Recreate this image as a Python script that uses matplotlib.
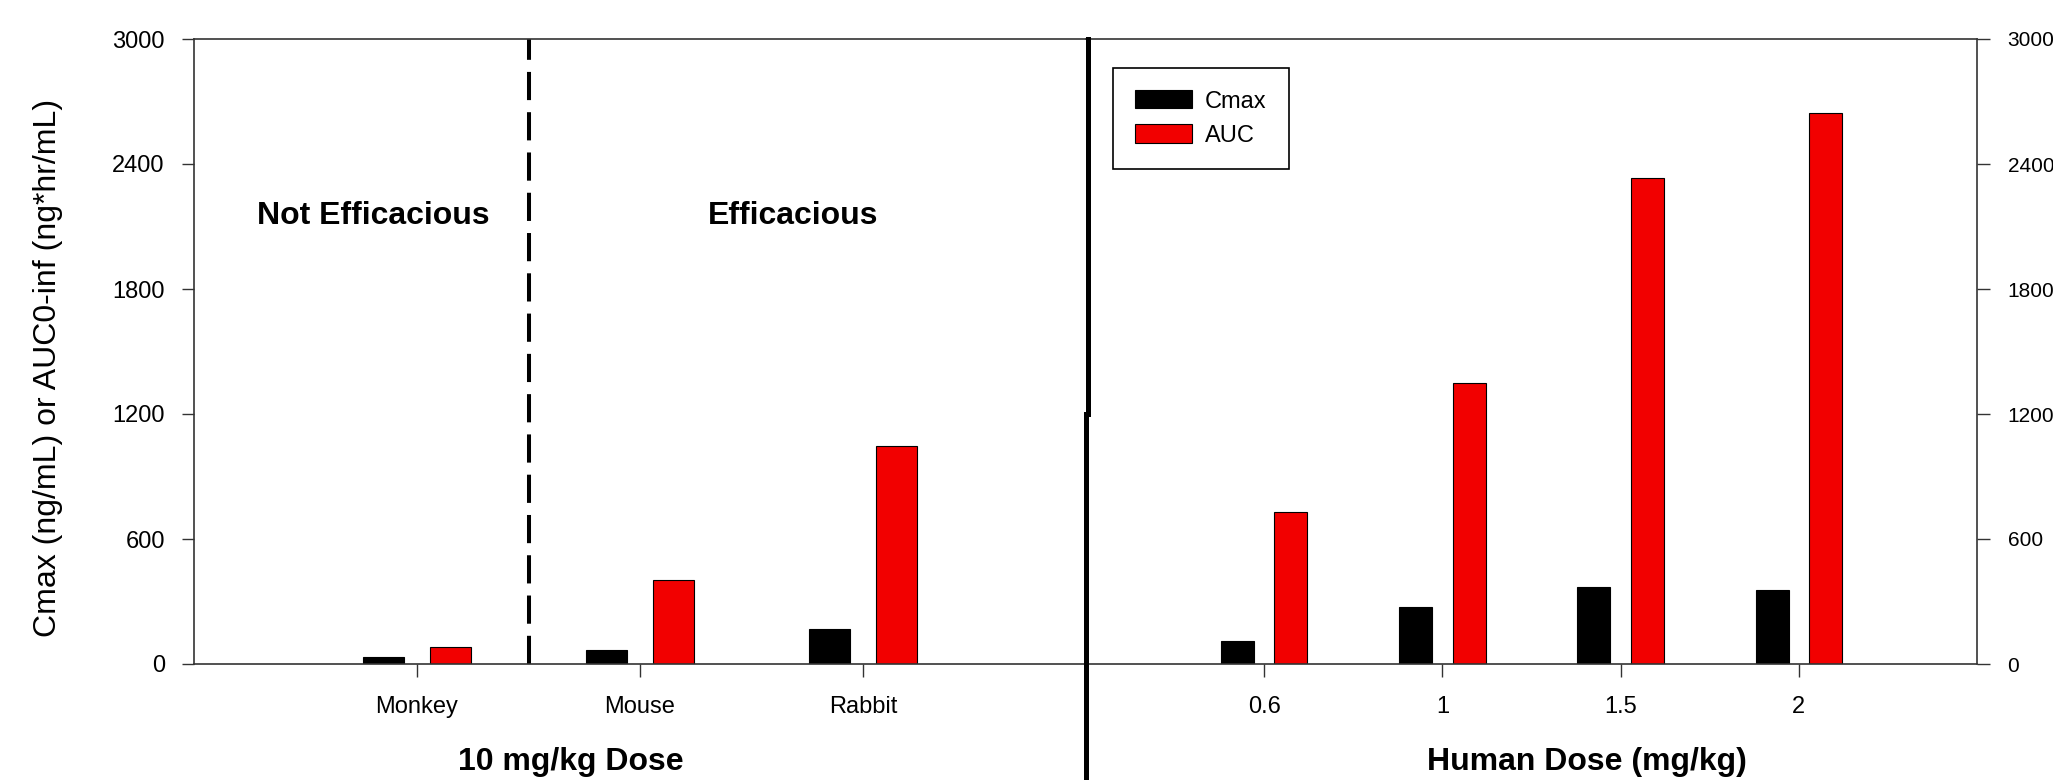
import matplotlib
matplotlib.use("Agg")
import matplotlib.pyplot as plt
from matplotlib.lines import Line2D
import numpy as np

plt.rcParams['font.family'] = ['Liberation Sans', 'DejaVu Sans']

# Data
species = ["Monkey", "Mouse", "Rabbit"]
cmax_species = [32, 69, 167]
auc_species = [80, 402, 1045]

human_doses = ["0.6", "1", "1.5", "2"]
cmax_human = [112, 272, 370, 353]
auc_human = [728, 1348, 2334, 2644]

y_ticks = [0, 600, 1200, 1800, 2400, 3000]

BLACK = "#000000"
RED = "#f20000"
W = 0.185
OFF = 0.15

fig = plt.figure(figsize=(20.53, 7.80), dpi=100)
bottom = 1 - 664 / 780
height = (664 - 39) / 780
ax1 = fig.add_axes([194 / 2053, bottom, (1086 - 194) / 2053, height])
ax2 = fig.add_axes([1086 / 2053, bottom, (1977 - 1086) / 2053, height])

# ------------------ left panel: 10 mg/kg in species ------------------
x1 = np.arange(1, len(species) + 1)
ax1.bar(x1 - OFF, cmax_species, W, color=BLACK, edgecolor="black", linewidth=0.8)
ax1.bar(x1 + OFF, auc_species, W, color=RED, edgecolor="black", linewidth=0.8)
ax1.set_xlim(0, len(species) + 1)
ax1.set_xticks(x1)
ax1.set_xticklabels(species)
ax1.axvline(1.5, color="black", linewidth=2.9, dashes=(7, 3))
ax1.spines["right"].set_visible(False)

# ------------------ right panel: human doses ------------------
x2 = np.arange(1, len(human_doses) + 1)
ax2.bar(x2 - OFF, cmax_human, W, color=BLACK, edgecolor="black", linewidth=0.8, label="Cmax")
ax2.bar(x2 + OFF, auc_human, W, color=RED, edgecolor="black", linewidth=0.8, label="AUC")
ax2.set_xlim(0, len(human_doses) + 1)
ax2.set_xticks(x2)
ax2.set_xticklabels(human_doses)
ax2.spines["left"].set_visible(False)
ax2.yaxis.tick_right()

for ax in (ax1, ax2):
    ax.set_ylim(0, 3000)
    ax.set_yticks(y_ticks)
    ax.tick_params(axis="both", direction="out", length=9, width=1, labelsize=17, color="#333333")
    ax.tick_params(axis="x", pad=14)
    ax.tick_params(axis="y", pad=12)
    for s in ax.spines.values():
        s.set_linewidth(1.2)
        s.set_color("#333333")
# right-hand labels sit against the edge of the picture, a bit smaller
ax2.tick_params(axis="y", labelsize=15, pad=13)

leg = ax2.legend(loc="upper left", bbox_to_anchor=(1113 / 2053, 1 - 68 / 780),
                 bbox_transform=fig.transFigure, borderaxespad=0, fontsize=17,
                 fancybox=False, edgecolor="black", framealpha=1,
                 handlelength=2.4, handleheight=0.8, handletextpad=0.55,
                 labelspacing=0.5, borderpad=0.95)
leg.get_frame().set_linewidth(1.2)

# thick solid divider between the panels, running to the bottom of the figure
fig.add_artist(Line2D([1088 / 2053, 1088 / 2053], [1 - 39 / 780, 1 - 414 / 780],
                      color="black", linewidth=3.6))
fig.add_artist(Line2D([1086 / 2053, 1086 / 2053], [1 - 414 / 780, 0],
                      color="black", linewidth=3.6))

fig.text(373 / 2053, 1 - 216 / 780, "Not Efficacious", fontsize=23, fontweight="bold",
         ha="center", va="center")
fig.text(793 / 2053, 1 - 216 / 780, "Efficacious", fontsize=23, fontweight="bold",
         ha="center", va="center")
fig.text(571 / 2053, 1 - 762 / 780, "10 mg/kg Dose", fontsize=23, fontweight="bold",
         ha="center", va="center")
fig.text(1587 / 2053, 1 - 762 / 780, "Human Dose (mg/kg)", fontsize=23, fontweight="bold",
         ha="center", va="center")
fig.text(48 / 2053, 1 - 368 / 780, "Cmax (ng/mL) or AUC0-inf (ng*hr/mL)", fontsize=23,
         rotation=90, ha="center", va="center")

fig.savefig("out.png", dpi=100)
